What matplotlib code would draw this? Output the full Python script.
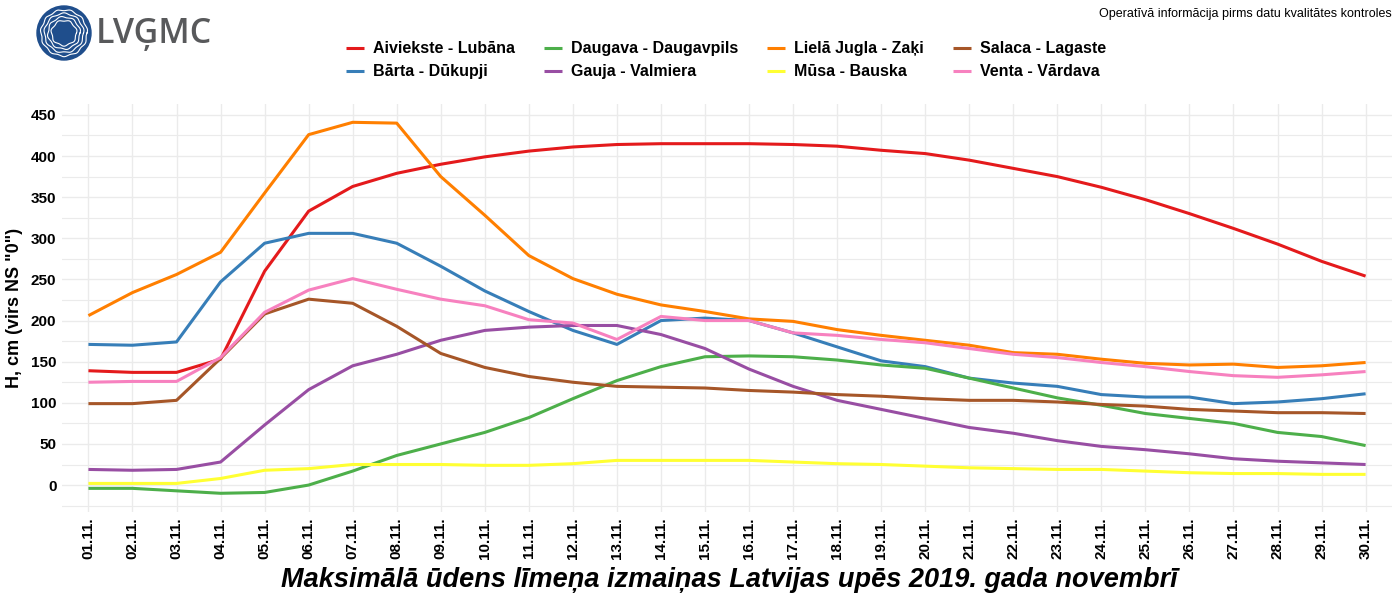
import numpy as np
import matplotlib
matplotlib.use("Agg")
import matplotlib.pyplot as plt
from matplotlib.patches import Circle

plt.rcParams['font.family'] = ['Liberation Sans', 'DejaVu Sans']

# dates (x axis)
days = [f"{d:02d}.11." for d in range(1, 31)]

# maximum water level per day, cm above gauge zero
aiviekste = [139, 137, 137, 153, 260, 333, 363, 379, 390, 399, 406, 411, 414, 415, 415,
             415, 414, 412, 407, 403, 395, 385, 375, 362, 347, 330, 312, 293, 272, 254]
barta = [171, 170, 174, 247, 294, 306, 306, 294, 266, 236, 211, 188, 171, 200, 203,
         200, 185, 168, 151, 144, 130, 124, 120, 110, 107, 107, 99, 101, 105, 111]
daugava = [-4, -4, -7, -10, -9, 0, 17, 36, 50, 64, 82, 105, 127, 144, 156,
           157, 156, 152, 146, 142, 130, 118, 106, 97, 87, 81, 75, 64, 59, 48]
gauja = [19, 18, 19, 28, 73, 116, 145, 159, 176, 188, 192, 194, 194, 183, 166,
         141, 120, 103, 92, 81, 70, 63, 54, 47, 43, 38, 32, 29, 27, 25]
liela_jugla = [206, 234, 256, 283, 355, 426, 441, 440, 375, 328, 279, 251, 232, 219, 211,
               202, 199, 189, 182, 176, 170, 161, 159, 153, 148, 146, 147, 143, 145, 149]
musa = [2, 2, 2, 8, 18, 20, 25, 25, 25, 24, 24, 26, 30, 30, 30,
        30, 28, 26, 25, 23, 21, 20, 19, 19, 17, 15, 14, 14, 13, 13]
salaca = [99, 99, 103, 154, 208, 226, 221, 193, 160, 143, 132, 125, 120, 119, 118,
          115, 113, 110, 108, 105, 103, 103, 101, 98, 96, 92, 90, 88, 88, 87]
venta = [125, 126, 126, 155, 210, 237, 251, 238, 226, 218, 201, 197, 177, 205, 200,
         200, 185, 182, 177, 173, 166, 159, 155, 149, 144, 138, 133, 131, 134, 138]

names = ["Aiviekste - Lubāna", "Bārta - Dūkupji", "Daugava - Daugavpils", "Gauja - Valmiera",
         "Lielā Jugla - Zaķi", "Mūsa - Bauska", "Salaca - Lagaste", "Venta - Vārdava"]
series = [aiviekste, barta, daugava, gauja, liela_jugla, musa, salaca, venta]
colors = ["#E41A1C", "#377EB8", "#4DAF4A", "#984EA3", "#FF7F00", "#FFFF33", "#A65628", "#F781BF"]

fig = plt.figure(figsize=(14, 6), dpi=100)
ax = fig.add_axes([0.0443, 0.147, 0.95, 0.68])

x = np.arange(1, len(days) + 1)
for name, vals, c in zip(names, series, colors):
    ax.plot(x, vals, color=c, lw=2.2, label=name, solid_capstyle='butt')

ax.set_xlim(0.4, 30.6)
ax.set_ylim(-32.5, 463.5)
ax.set_xticks(x)
ax.set_xticklabels(days, rotation=90, fontsize=11, fontweight='bold')
ax.set_yticks(np.arange(0, 451, 50))
ax.set_yticks(np.arange(-25, 451, 50), minor=True)
ax.tick_params(axis='y', labelsize=11, length=0, pad=4)
ax.tick_params(axis='x', length=0, pad=4)
ax.tick_params(which='minor', length=0)
for lab in ax.get_yticklabels():
    lab.set_fontweight('bold')
ax.grid(True, which='major', color='#EBEBEB', lw=1.0)
ax.grid(True, which='minor', axis='y', color='#EBEBEB', lw=0.8)
ax.set_axisbelow(True)
for s in ax.spines.values():
    s.set_visible(False)

ax.set_ylabel('H, cm (virs NS "0")', fontsize=13, fontweight='bold', labelpad=6)
fig.text(0.521, 0.033, 'Maksimālā ūdens līmeņa izmaiņas Latvijas upēs 2019. gada novembrī',
         fontsize=19.5, fontweight='bold', style='italic', ha='center', va='center')

fig.legend(loc='upper center', bbox_to_anchor=(0.5185, 0.955), ncol=4, frameon=False,
           prop={'weight': 'bold', 'size': 11.5}, handlelength=1.15, handletextpad=0.55,
           columnspacing=1.8, labelspacing=0.5)

fig.text(0.994, 0.977, 'Operatīvā informācija pirms datu kvalitātes kontroles',
         ha='right', va='center', fontsize=9)

# logo
lax = fig.add_axes([0.0, 0.88, 0.2, 0.12])
lax.set_xlim(0, 280)
lax.set_ylim(0, 72)
lax.set_aspect('equal')
lax.axis('off')
lax.add_patch(Circle((64, 39), 27, color='#1F4E8C'))
t = np.linspace(0, 2 * np.pi, 300)
for r, k in [(23, 11), (19.5, 9), (16, 8), (12.5, 7)]:
    rr = r + 0.7 * np.sin(k * t)
    lax.plot(64 + rr * np.cos(t), 39 + rr * np.sin(t), color='white', lw=0.8)
lax.text(96, 38, 'LVĢMC', fontsize=24.5, color='#58595B', va='center', ha='left',
         fontweight='semibold', family='Open Sans')

fig.savefig('out.png', dpi=100)
